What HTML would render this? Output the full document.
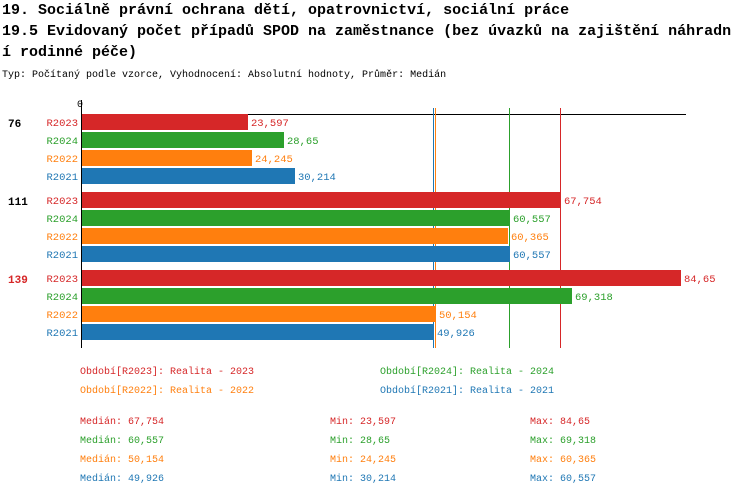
<!DOCTYPE html><html><head><meta charset="utf-8"><style>
body{margin:0;background:#fff;width:750px;height:498px;overflow:hidden}
svg{display:block}
text{font-family:"Liberation Mono","DejaVu Sans Mono",monospace}
.t{font-size:15px;font-weight:bold}
.s{font-size:10px}
.l{font-size:10.5px}
</style></head><body>
<svg width="750" height="498" xmlns="http://www.w3.org/2000/svg">
<text class="t" x="2" y="14">19. Sociálně právní ochrana dětí, opatrovnictví, sociální práce</text>
<text class="t" x="2" y="35">19.5 Evidovaný počet případů SPOD na zaměstnance (bez úvazků na zajištění náhradn</text>
<text class="t" x="2" y="56">í rodinné péče)</text>
<text class="s" x="2" y="77">Typ: Počítaný podle vzorce, Vyhodnocení: Absolutní hodnoty, Průměr: Medián</text>
<text class="s" x="77" y="107">0</text>
<line x1="81.5" y1="100" x2="81.5" y2="348" stroke="#000"/>
<line x1="81" y1="114.5" x2="686" y2="114.5" stroke="#000"/>
<line x1="433.5" y1="108" x2="433.5" y2="348" stroke="#1f77b4"/>
<line x1="435.5" y1="108" x2="435.5" y2="348" stroke="#ff7f0e"/>
<line x1="509.5" y1="108" x2="509.5" y2="348" stroke="#2ca02c"/>
<line x1="560.5" y1="108" x2="560.5" y2="348" stroke="#d62728"/>
<g class="l">
<!-- group 1 -->
<text x="8" y="127" font-weight="bold" font-size="11">76</text>
<rect x="82" y="114" width="166" height="16" fill="#d62728"/><text x="78" y="126" text-anchor="end" fill="#d62728">R2023</text><text x="251" y="126" fill="#d62728">23,597</text>
<rect x="82" y="132" width="202" height="16" fill="#2ca02c"/><text x="78" y="144" text-anchor="end" fill="#2ca02c">R2024</text><text x="287" y="144" fill="#2ca02c">28,65</text>
<rect x="82" y="150" width="170" height="16" fill="#ff7f0e"/><text x="78" y="162" text-anchor="end" fill="#ff7f0e">R2022</text><text x="255" y="162" fill="#ff7f0e">24,245</text>
<rect x="82" y="168" width="213" height="16" fill="#1f77b4"/><text x="78" y="180" text-anchor="end" fill="#1f77b4">R2021</text><text x="298" y="180" fill="#1f77b4">30,214</text>
<!-- group 2 -->
<text x="8" y="205" font-weight="bold" font-size="11">111</text>
<rect x="82" y="192" width="479" height="16" fill="#d62728"/><text x="78" y="204" text-anchor="end" fill="#d62728">R2023</text><text x="564" y="204" fill="#d62728">67,754</text>
<rect x="82" y="210" width="428" height="16" fill="#2ca02c"/><text x="78" y="222" text-anchor="end" fill="#2ca02c">R2024</text><text x="513" y="222" fill="#2ca02c">60,557</text>
<rect x="82" y="228" width="426" height="16" fill="#ff7f0e"/><text x="78" y="240" text-anchor="end" fill="#ff7f0e">R2022</text><text x="511" y="240" fill="#ff7f0e">60,365</text>
<rect x="82" y="246" width="428" height="16" fill="#1f77b4"/><text x="78" y="258" text-anchor="end" fill="#1f77b4">R2021</text><text x="513" y="258" fill="#1f77b4">60,557</text>
<!-- group 3 -->
<text x="8" y="283" font-weight="bold" font-size="11" fill="#d62728">139</text>
<rect x="82" y="270" width="599" height="16" fill="#d62728"/><text x="78" y="282" text-anchor="end" fill="#d62728">R2023</text><text x="684" y="282" fill="#d62728">84,65</text>
<rect x="82" y="288" width="490" height="16" fill="#2ca02c"/><text x="78" y="300" text-anchor="end" fill="#2ca02c">R2024</text><text x="575" y="300" fill="#2ca02c">69,318</text>
<rect x="82" y="306" width="354" height="16" fill="#ff7f0e"/><text x="78" y="318" text-anchor="end" fill="#ff7f0e">R2022</text><text x="439" y="318" fill="#ff7f0e">50,154</text>
<rect x="82" y="324" width="352" height="16" fill="#1f77b4"/><text x="78" y="336" text-anchor="end" fill="#1f77b4">R2021</text><text x="437" y="336" fill="#1f77b4">49,926</text>
</g>
<g class="s">
<text x="80" y="374" fill="#d62728">Období[R2023]: Realita - 2023</text>
<text x="380" y="374" fill="#2ca02c">Období[R2024]: Realita - 2024</text>
<text x="80" y="393" fill="#ff7f0e">Období[R2022]: Realita - 2022</text>
<text x="380" y="393" fill="#1f77b4">Období[R2021]: Realita - 2021</text>
<text x="80" y="424" fill="#d62728">Medián: 67,754</text><text x="330" y="424" fill="#d62728">Min: 23,597</text><text x="530" y="424" fill="#d62728">Max: 84,65</text>
<text x="80" y="443" fill="#2ca02c">Medián: 60,557</text><text x="330" y="443" fill="#2ca02c">Min: 28,65</text><text x="530" y="443" fill="#2ca02c">Max: 69,318</text>
<text x="80" y="462" fill="#ff7f0e">Medián: 50,154</text><text x="330" y="462" fill="#ff7f0e">Min: 24,245</text><text x="530" y="462" fill="#ff7f0e">Max: 60,365</text>
<text x="80" y="481" fill="#1f77b4">Medián: 49,926</text><text x="330" y="481" fill="#1f77b4">Min: 30,214</text><text x="530" y="481" fill="#1f77b4">Max: 60,557</text>
</g>
</svg>
</body></html>
